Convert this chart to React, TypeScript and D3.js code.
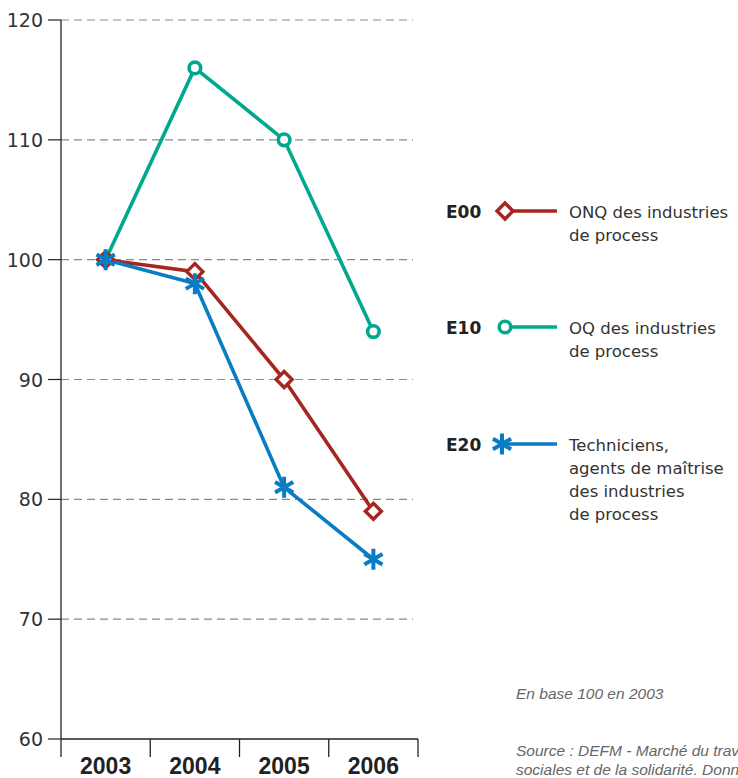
import React from "react";
import * as d3 from "d3";

const years = ["2003", "2004", "2005", "2006"];
const e00 = [100, 99, 90, 79];
const e10 = [100, 116, 110, 94];
const e20 = [100, 98, 81, 75];
const yTicks = [60, 70, 80, 90, 100, 110, 120];

const seriesCodes = ["E00", "E10", "E20"];
const seriesLabels = [
  ["ONQ des industries", "de process"],
  ["OQ des industries", "de process"],
  ["Techniciens,", "agents de maîtrise", "des industries", "de process"],
];
const colors = ["#A6251F", "#00A88E", "#0A7CC4"];
const markers = ["diamond", "circle", "asterisk"];
const noteText = "En base 100 en 2003";
const sourceLines = [
  "Source : DEFM - Marché du travail, ministère de l'Emploi, de la Cohésion",
  "sociales et de la solidarité. Données brutes au 31 décembre.",
];

const W = 738, H = 778;
const x0 = 61, x1 = 418;
const y = d3.scaleLinear().domain([60, 120]).range([739, 20]);
const x = d3.scaleBand().domain(years).range([x0, x1]);
const xc = (yr: string) => (x(yr) as number) + x.bandwidth() / 2;

function Marker({ type, cx, cy, color }: { type: string; cx: number; cy: number; color: string }) {
  if (type === "diamond") {
    const s = 8;
    return (
      <path
        d={`M${cx},${cy - s}L${cx + s},${cy}L${cx},${cy + s}L${cx - s},${cy}Z`}
        fill="#fff"
        stroke={color}
        strokeWidth={3.4}
      />
    );
  }
  if (type === "circle") {
    return <circle cx={cx} cy={cy} r={5.8} fill="#fff" stroke={color} strokeWidth={3.6} />;
  }
  const r = 10.5;
  const arms = [90, 30, -30].map((a) => {
    const rad = (a * Math.PI) / 180;
    return `M${cx - r * Math.cos(rad)},${cy - r * Math.sin(rad)}L${cx + r * Math.cos(rad)},${cy + r * Math.sin(rad)}`;
  });
  return <path d={arms.join("")} stroke={color} strokeWidth={4} fill="none" />;
}

export default function App() {
  const allSeries = [e00, e10, e20];
  const line = d3
    .line<number>()
    .x((_, i) => xc(years[i]))
    .y((v) => y(v));
  const legendY = [211, 327, 444];
  const font = "'DejaVu Sans', sans-serif";
  const narrow = "'Liberation Sans Narrow', 'Liberation Sans', sans-serif";
  return (
    <svg width={W} height={H} style={{ position: "absolute", left: 0, top: 0, background: "#fff" }}>
      {yTicks.filter((t) => t > 60).map((t) => (
        <line key={"g" + t} x1={x0} x2={413} y1={y(t)} y2={y(t)} stroke="#8a8a8a" strokeWidth={1.2} strokeDasharray="8,5" />
      ))}
      {yTicks.map((t) => (
        <g key={"t" + t}>
          <line x1={48} x2={x0} y1={y(t)} y2={y(t)} stroke="#222" strokeWidth={1.2} />
          <text x={43} y={y(t) + 7} textAnchor="end" fontFamily={font} fontSize={19} fill="#333">
            {t}
          </text>
        </g>
      ))}
      <line x1={x0} x2={x0} y1={20} y2={757} stroke="#222" strokeWidth={1.3} />
      <line x1={x0} x2={x1} y1={y(60)} y2={y(60)} stroke="#222" strokeWidth={1.3} />
      {years.map((yr) => (
        <line key={"s" + yr} x1={(x(yr) as number) + x.bandwidth()} x2={(x(yr) as number) + x.bandwidth()} y1={y(60)} y2={757} stroke="#222" strokeWidth={1.3} />
      ))}
      {years.map((yr) => (
        <text key={"x" + yr} x={xc(yr)} y={774} textAnchor="middle" fontFamily="'Liberation Sans', Arial, sans-serif" fontWeight="bold" fontSize={23} fill="#222">
          {yr}
        </text>
      ))}
      {[1, 0, 2].map((i) => (
        <path key={"l" + i} d={line(allSeries[i]) as string} fill="none" stroke={colors[i]} strokeWidth={3.6} strokeLinejoin="miter" />
      ))}
      {[1, 0, 2].map((i) =>
        allSeries[i].map((v, j) => (
          <Marker key={"m" + i + j} type={markers[i]} cx={xc(years[j])} cy={y(v)} color={colors[i]} />
        ))
      )}
      {seriesCodes.map((c, i) => (
        <g key={"lg" + c}>
          <text x={446} y={legendY[i] + 6.5} fontFamily={font} fontWeight="bold" fontSize={17} fill="#222">
            {c}
          </text>
          <line x1={505} x2={557} y1={legendY[i]} y2={legendY[i]} stroke={colors[i]} strokeWidth={3.6} />
          <Marker type={markers[i]} cx={i === 2 ? 502 : 505} cy={legendY[i]} color={colors[i]} />
          {seriesLabels[i].map((s, k) => (
            <text key={k} x={569} y={legendY[i] + 6.5 + k * 23.3} fontFamily={font} fontSize={16.5} fill="#333">
              {s}
            </text>
          ))}
        </g>
      ))}
      <text x={516} y={699} fontFamily={narrow} fontStyle="italic" fontSize={15.5} fill="#666">
        {noteText}
      </text>
      {sourceLines.map((s, k) => (
        <text key={"src" + k} x={516} y={756 + k * 19} fontFamily={narrow} fontStyle="italic" fontSize={15.5} fill="#666">
          {s}
        </text>
      ))}
    </svg>
  );
}
